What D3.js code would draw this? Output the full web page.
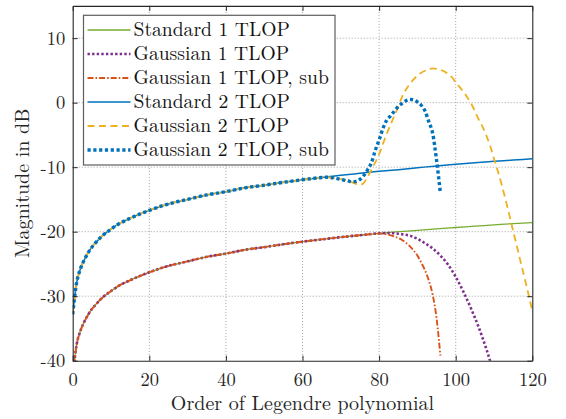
<!DOCTYPE html>
<html>
<head>
<meta charset="utf-8">
<script src="https://cdn.jsdelivr.net/npm/d3@7"></script>
<style>
  html, body { margin: 0; padding: 0; background: #fff; }
  svg { display: block; }
</style>
</head>
<body>
<svg id="chart" width="566" height="419"></svg>
<script>
// ---- data -------------------------------------------------------------
const xTicks = [0, 20, 40, 60, 80, 100, 120];
const yTicks = [-40, -30, -20, -10, 0, 10];

// polynomial orders shared by the two standard responses
const stdOrder = [0, 1, 2, 3, 4, 5, 6, 8, 10, 12, 14, 17, 20, 25, 30, 35, 40, 45, 50,
                  55, 60, 65, 70, 75, 80, 85, 90, 95, 100, 105, 110, 115, 120];
const std1 = [-42.4, -37.6, -35.4, -34.0, -32.9, -32.0, -31.3, -30.1, -29.2, -28.4, -27.8,
              -27.0, -26.3, -25.3, -24.6, -23.9, -23.4, -22.8, -22.4, -21.95, -21.55, -21.2,
              -20.85, -20.55, -20.25, -20.0, -19.8, -19.55, -19.35, -19.15, -18.95, -18.75, -18.6];
const std2 = [-32.8, -28.0, -25.8, -24.4, -23.3, -22.4, -21.7, -20.5, -19.6, -18.8, -18.2,
              -17.4, -16.7, -15.7, -15.0, -14.3, -13.8, -13.2, -12.8, -12.35, -11.95, -11.6,
              -11.25, -10.95, -10.65, -10.4, -10.1, -9.8, -9.55, -9.3, -9.1, -8.9, -8.7];

// Gaussian responses: identical to the standard ones up to these orders,
// then the tails below
const gauss1Split = 75;
const gauss1Order = [80, 82, 84, 86, 88, 90, 92, 94, 96, 98, 100, 102, 104, 106, 108, 110];
const gauss1 = [-20.25, -20.2, -20.25, -20.4, -20.6, -21.1, -21.8, -22.6, -23.7, -25.1,
                -27.0, -29.3, -31.9, -34.8, -38.2, -42.0];

const gauss1SubSplit = 75;
const gauss1SubOrder = [76, 78, 80, 82, 84, 86, 88, 89, 90, 91, 92, 93, 94, 95, 96];
const gauss1Sub = [-20.5, -20.35, -20.3, -20.4, -20.75, -21.3, -22.25, -22.9, -23.7, -24.8,
                   -26.0, -27.6, -29.8, -33.4, -39.2];

const gauss2Split = 65;
const gauss2Order = [66, 68, 70, 72, 73, 74, 75, 76, 77, 78, 79, 80, 81, 82, 83, 84, 85, 86,
                     87, 88, 89, 90, 91, 92, 93, 94, 95, 96, 97, 98, 99, 100, 101, 102, 103,
                     104, 105, 106, 107, 108, 109, 110, 111, 112, 113, 114, 115, 116, 117,
                     118, 119, 120];
const gauss2 = [-11.55, -11.65, -11.85, -12.15, -12.35, -12.6, -12.75, -12.45, -11.5, -10.4,
                -9.25, -8.0, -6.4, -4.8, -3.4, -2.0, -0.6, 0.9, 2.0, 2.9, 3.6, 4.2, 4.65,
                4.95, 5.2, 5.3, 5.25, 5.1, 4.85, 4.45, 3.95, 3.15, 2.45, 1.7, 0.85, -0.1,
                -1.3, -2.6, -3.7, -5.1, -6.7, -8.7, -10.6, -12.7, -15.0, -17.4, -19.9,
                -22.3, -24.8, -27.2, -29.7, -32.3];

const gauss2SubSplit = 65;
const gauss2SubOrder = [66, 68, 70, 72, 73, 74, 75, 76, 77, 78, 79, 80, 81, 82, 83, 84, 85,
                        86, 87, 88, 89, 90, 91, 92, 93, 94, 95, 96];
const gauss2Sub = [-11.55, -11.65, -11.9, -12.15, -12.25, -12.2, -11.9, -11.3, -10.4, -9.3,
                   -7.4, -5.8, -4.0, -2.7, -2.05, -1.3, -0.6, -0.1, 0.3, 0.5, 0.45, 0.1,
                   -0.4, -1.3, -3.0, -4.8, -8.9, -14.0];

const seriesNames = ["Standard 1 TLOP", "Gaussian 1 TLOP", "Gaussian 1 TLOP, sub",
                     "Standard 2 TLOP", "Gaussian 2 TLOP", "Gaussian 2 TLOP, sub"];

// ---- assemble point lists ---------------------------------------------
const pts = (xs, ys) => xs.map((x, i) => [x, ys[i]]);
const std1Pts = pts(stdOrder, std1);
const std2Pts = pts(stdOrder, std2);
const withHead = (head, split, xs, ys) =>
  head.filter(p => p[0] <= split).concat(pts(xs, ys));

const series = [
  { name: seriesNames[0], points: std1Pts, color: "#77AC30", width: 1.3, dash: null },
  { name: seriesNames[1], points: withHead(std1Pts, gauss1Split, gauss1Order, gauss1),
    color: "#7E2F8E", width: 2.6, dash: "2.4,2.2" },
  { name: seriesNames[2], points: withHead(std1Pts, gauss1SubSplit, gauss1SubOrder, gauss1Sub),
    color: "#D95319", width: 1.9, dash: "6,2,1.6,2" },
  { name: seriesNames[3], points: std2Pts, color: "#0072BD", width: 1.5, dash: null },
  { name: seriesNames[4], points: withHead(std2Pts, gauss2Split, gauss2Order, gauss2),
    color: "#EDB120", width: 1.8, dash: "7,4.5" },
  { name: seriesNames[5], points: withHead(std2Pts, gauss2SubSplit, gauss2SubOrder, gauss2Sub),
    color: "#0072BD", width: 3.4, dash: "3.2,2.6" }
];

// ---- layout ------------------------------------------------------------
const plot = { left: 72.7, right: 532.3, top: 5.9, bottom: 360.7 };
const axisColor = "#262626";
const texFont = "'Latin Modern Roman', 'Liberation Serif', monospace";

const x = d3.scaleLinear().domain([0, 120]).range([plot.left, plot.right]);
const y = d3.scaleLinear().domain([-40, 15]).range([plot.bottom, plot.top]);

const svg = d3.select("#chart");

svg.append("defs").append("clipPath").attr("id", "plotClip")
  .append("rect")
  .attr("x", plot.left).attr("y", plot.top)
  .attr("width", plot.right - plot.left).attr("height", plot.bottom - plot.top);

// grid
const grid = svg.append("g").attr("stroke", "#8a8a8a").attr("stroke-width", 0.8)
  .attr("stroke-dasharray", "1,2");
grid.selectAll("line.gx").data(xTicks.slice(1, -1)).join("line")
  .attr("x1", d => x(d)).attr("x2", d => x(d))
  .attr("y1", plot.top).attr("y2", plot.bottom);
grid.selectAll("line.gy").data(yTicks.slice(1)).join("line")
  .attr("x1", plot.left).attr("x2", plot.right)
  .attr("y1", d => y(d)).attr("y2", d => y(d));

// curves
const line = d3.line().x(d => x(d[0])).y(d => y(d[1])).curve(d3.curveMonotoneX);
const curves = svg.append("g").attr("clip-path", "url(#plotClip)");
series.forEach(s => {
  curves.append("path")
    .attr("d", line(s.points))
    .attr("fill", "none")
    .attr("stroke", s.color)
    .attr("stroke-width", s.width)
    .attr("stroke-dasharray", s.dash)
    .attr("stroke-linejoin", "round");
});

// axes (bottom / left with labels, top / right mirrored ticks)
const tickLen = 5;
const fmt = d => (d < 0 ? "-" + Math.abs(d) : String(d));

const axB = svg.append("g").attr("transform", `translate(0,${plot.bottom})`)
  .call(d3.axisBottom(x).tickValues(xTicks).tickSizeInner(-tickLen).tickSizeOuter(0)
        .tickFormat(fmt));
const axT = svg.append("g").attr("transform", `translate(0,${plot.top})`)
  .call(d3.axisTop(x).tickValues(xTicks).tickSizeInner(-tickLen).tickSizeOuter(0)
        .tickFormat(""));
const axL = svg.append("g").attr("transform", `translate(${plot.left},0)`)
  .call(d3.axisLeft(y).tickValues(yTicks).tickSizeInner(-tickLen).tickSizeOuter(0)
        .tickPadding(7.5).tickFormat(fmt));
const axR = svg.append("g").attr("transform", `translate(${plot.right},0)`)
  .call(d3.axisRight(y).tickValues(yTicks).tickSizeInner(-tickLen).tickSizeOuter(0)
        .tickFormat(""));

[axB, axT, axL, axR].forEach(a => {
  a.select(".domain").attr("stroke", axisColor).attr("stroke-width", 1.1);
  a.selectAll(".tick line").attr("stroke", axisColor).attr("stroke-width", 1);
  a.selectAll(".tick text").attr("fill", axisColor)
    .style("font-family", texFont).style("font-size", "18.5px");
});
axB.selectAll(".tick text").attr("dy", null).attr("y", 25);
axL.selectAll(".tick text").attr("dy", "0.33em");

// axis titles
svg.append("text")
  .attr("x", (plot.left + plot.right) / 2).attr("y", 410)
  .attr("text-anchor", "middle").attr("fill", axisColor)
  .style("font-family", texFont).style("font-size", "20px")
  .text("Order of Legendre polynomial");
svg.append("text")
  .attr("transform", `translate(29,${(plot.top + plot.bottom) / 2}) rotate(-90)`)
  .attr("text-anchor", "middle").attr("fill", axisColor)
  .style("font-family", texFont).style("font-size", "20px")
  .text("Magnitude in dB");

// legend
const leg = svg.append("g");
leg.append("rect")
  .attr("x", 83.5).attr("y", 15.3).attr("width", 251.5).attr("height", 149.7)
  .attr("fill", "#fff").attr("stroke", "#5e5e5e").attr("stroke-width", 1.2);
series.forEach((s, i) => {
  const cy = 30 + i * 24;
  leg.append("line")
    .attr("x1", 87.5).attr("x2", 130.5).attr("y1", cy).attr("y2", cy)
    .attr("stroke", s.color).attr("stroke-width", s.width)
    .attr("stroke-dasharray", s.dash);
  leg.append("text")
    .attr("x", 133.5).attr("y", cy + 6.3)
    .attr("fill", "#111")
    .style("font-family", texFont).style("font-size", "19.6px")
    .text(s.name);
});
</script>
</body>
</html>
